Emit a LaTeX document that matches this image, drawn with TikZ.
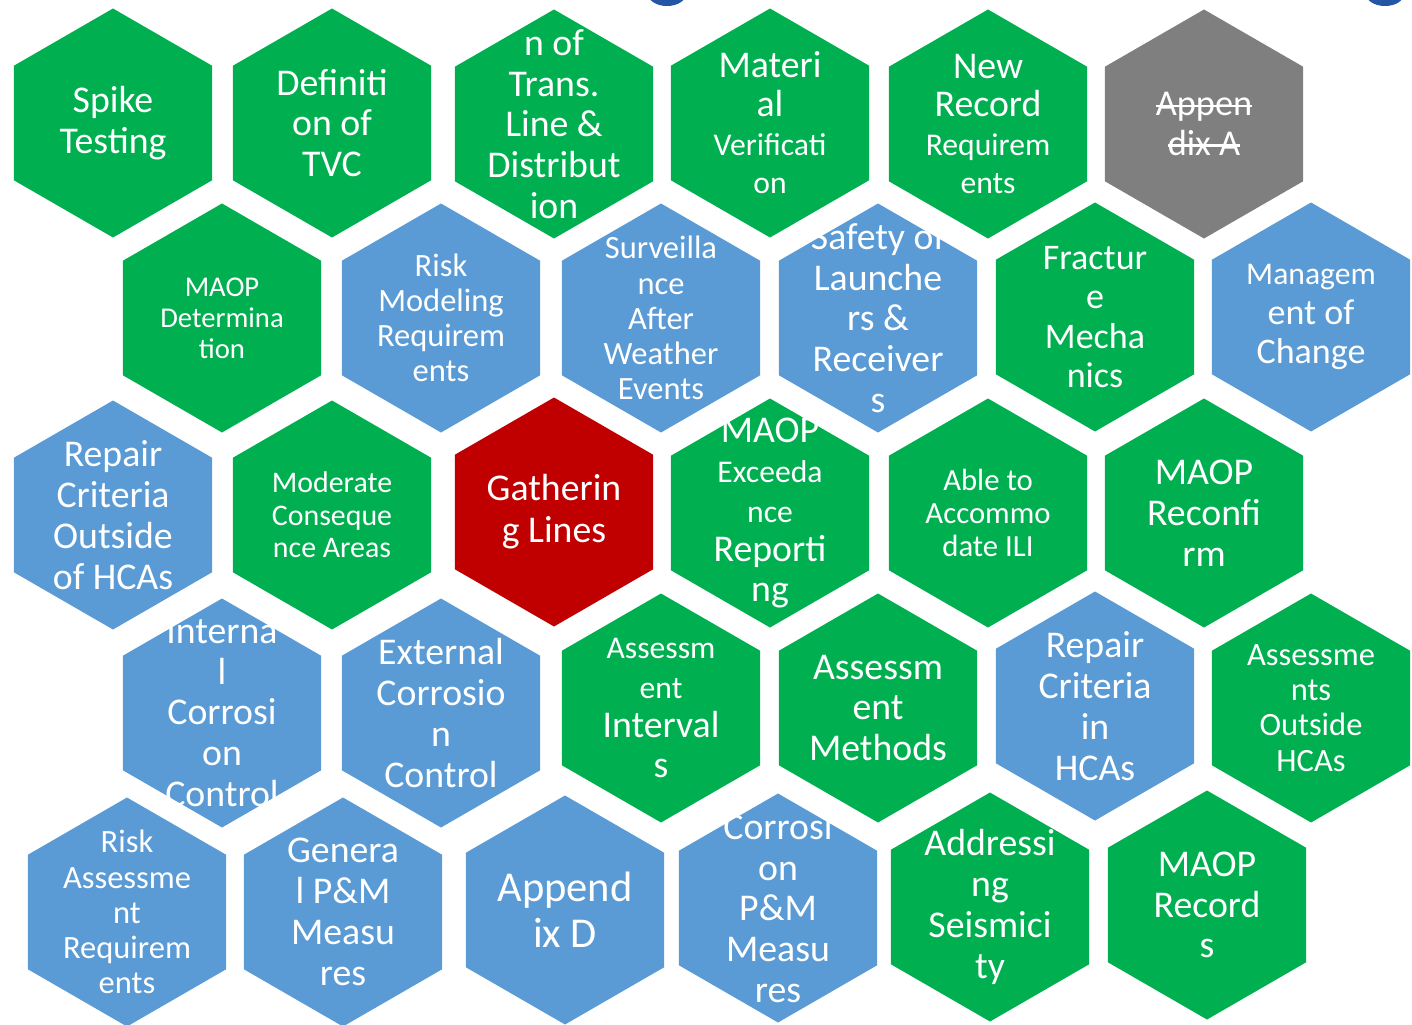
\documentclass[tikz,border=0pt]{standalone}
\usepackage{fontspec}
\setmainfont{Carlito}

\definecolor{hexgreen}{HTML}{00B050}
\definecolor{hexblue}{HTML}{5B9BD5}
\definecolor{hexred}{HTML}{C00000}
\definecolor{hexgray}{HTML}{7F7F7F}
\definecolor{titleblue}{HTML}{2456A6}

\newcommand{\lesser}{\fontsize{18}{19}\selectfont}
\newcommand{\fullsize}{\fontsize{21.5}{23.2}\selectfont}
\newsavebox{\strikebox}
\newcommand{\struck}[1]{\sbox{\strikebox}{#1}\rlap{\rule[0.24em]{\wd\strikebox}{0.065em}}\usebox{\strikebox}}

\begin{document}
\begin{tikzpicture}[x=0.02cm, y=-0.02cm,
  hexagon/.pic={\fill[#1] (90:114.5) -- (150:114.5) -- (210:114.5) -- (270:114.5) -- (330:114.5) -- (30:114.5) -- cycle;},
  celltext/.style 2 args={text=white, align=center, inner sep=0pt, font=\fontsize{#1}{#2}\selectfont}]

\useasboundingbox (0,0) rectangle (1412,1024);
\clip (0,0) rectangle (1412,1024);

% bits of the heading above
\fill[titleblue] (667,-6) ellipse (0.38cm and 0.24cm);
\fill[titleblue] (1385,-6) ellipse (0.38cm and 0.24cm);

% row 1
\pic at (113,123) {hexagon=hexgreen};
\pic at (332,123) {hexagon=hexgreen};
\pic at (554,124) {hexagon=hexgreen};
\pic at (770,123) {hexagon=hexgreen};
\pic at (988,124) {hexagon=hexgreen};
\pic at (1204,124) {hexagon=hexgray};

% row 2
\pic at (222,318) {hexagon=hexgreen};
\pic at (441,318) {hexagon=hexblue};
\pic at (661,318) {hexagon=hexblue};
\pic at (878,318) {hexagon=hexblue};
\pic at (1095,317) {hexagon=hexgreen};
\pic at (1311,317) {hexagon=hexblue};

% row 3
\pic at (113,515) {hexagon=hexblue};
\pic at (332,515) {hexagon=hexgreen};
\pic at (554,512) {hexagon=hexred};
\pic at (770,513) {hexagon=hexgreen};
\pic at (988,513) {hexagon=hexgreen};
\pic at (1204,513) {hexagon=hexgreen};

% row 4
\pic at (222,713) {hexagon=hexblue};
\pic at (441,713) {hexagon=hexblue};
\pic at (661,708) {hexagon=hexgreen};
\pic at (878,708) {hexagon=hexgreen};
\pic at (1095,706) {hexagon=hexblue};
\pic at (1311,708) {hexagon=hexgreen};

% row 5
\pic at (127,912) {hexagon=hexblue};
\pic at (343,912) {hexagon=hexblue};
\pic at (565,910) {hexagon=hexblue};
\pic at (778,908) {hexagon=hexblue};
\pic at (990,907) {hexagon=hexgreen};
\pic at (1207,905) {hexagon=hexgreen};

% texts
\node[celltext={21.5}{23.2}] (spike) at (113,123) {Spike\\Testing};
\node[celltext={21.5}{23.2}] (tvc) at (332,123) {Definiti\\on of\\TVC};
\node[celltext={21.5}{23.2}] (trans) at (554,124) {n of\\Trans.\\Line \&\\Distribut\\ion};
\node[celltext={21.5}{22}] (material) at (770,123) {Materi\\al\\\lesser Verificati\\\lesser on};
\node[celltext={21.5}{22}] (newrecord) at (988,124) {New\\Record\\\lesser Requirem\\\lesser ents};
\node[celltext={20.7}{22.7}] (appa) at (1204,124) {\struck{Appen}\\\struck{dix A}};

\node[celltext={16.3}{17.6}] (maopdet) at (222,318) {MAOP\\Determina\\tion};
\node[celltext={18.5}{20}] (riskmodel) at (441,318) {Risk\\Modeling\\Requirem\\ents};
\node[celltext={18.5}{20}] (weather) at (661,318) {Surveilla\\nce\\After\\Weather\\Events};
\node[celltext={21.5}{23.2}] (launchers) at (878,318) {Safety of\\Launche\\rs \&\\Receiver\\s};
\node[celltext={20.5}{22.5}] (fracture) at (1095,317) {Fractur\\e\\Mecha\\nics};
\node[celltext={20.5}{22.7}] (moc) at (1311,317) {\lesser Managem\\ent of\\Change};

\node[celltext={21.5}{23.2}] (repairout) at (113,515) {Repair\\Criteria\\Outside\\of HCAs};
\node[celltext={17}{18.4}] (moderate) at (332,515) {Moderate\\Conseque\\nce Areas};
\node[celltext={21.5}{23.8}] (gathering) at (554,512) {Gatherin\\g Lines};
\node[celltext={21.5}{22.7}] (exceed) at (770,513) {MAOP\\\lesser Exceeda\\\lesser nce\\\fullsize Reporti\\\fullsize ng};
\node[celltext={17.5}{19}] (ili) at (988,513) {Able to\\Accommo\\date ILI};
\node[celltext={21.5}{23.2}] (reconfirm) at (1204,513) {MAOP\\Reconfi\\rm};

\node[celltext={21.5}{23.2}] (internal) at (222,713) {Interna\\l\\Corrosi\\on\\Control};
\node[celltext={21.5}{23.2}] (external) at (441,713) {External\\Corrosio\\n\\Control};
\node[celltext={21.5}{22.5}] (intervals) at (661,708) {\lesser Assessm\\\lesser ent\\\fullsize Interval\\\fullsize s};
\node[celltext={21.5}{23.2}] (methods) at (878,708) {Assessm\\ent\\Methods};
\node[celltext={21.5}{23.2}] (repairhca) at (1095,706) {Repair\\Criteria\\in\\HCAs};
\node[celltext={18.5}{20}] (outside) at (1311,708) {Assessme\\nts\\Outside\\HCAs};

\node[celltext={18.5}{20}] (riskassess) at (127,912) {Risk\\Assessme\\nt\\Requirem\\ents};
\node[celltext={21.5}{23.2}] (generalpm) at (343,912) {Genera\\l P\&M\\Measu\\res};
\node[celltext={24.2}{26}] (appd) at (565,910) {Append\\ix D};
\node[celltext={21.5}{23.2}] (corrpm) at (778,908) {Corrosi\\on\\P\&M\\Measu\\res};
\node[celltext={21.5}{23.2}] (seismic) at (990,907) {Addressi\\ng\\Seismici\\ty};
\node[celltext={21.5}{23.2}] (records) at (1207,905) {MAOP\\Record\\s};

\end{tikzpicture}
\end{document}
